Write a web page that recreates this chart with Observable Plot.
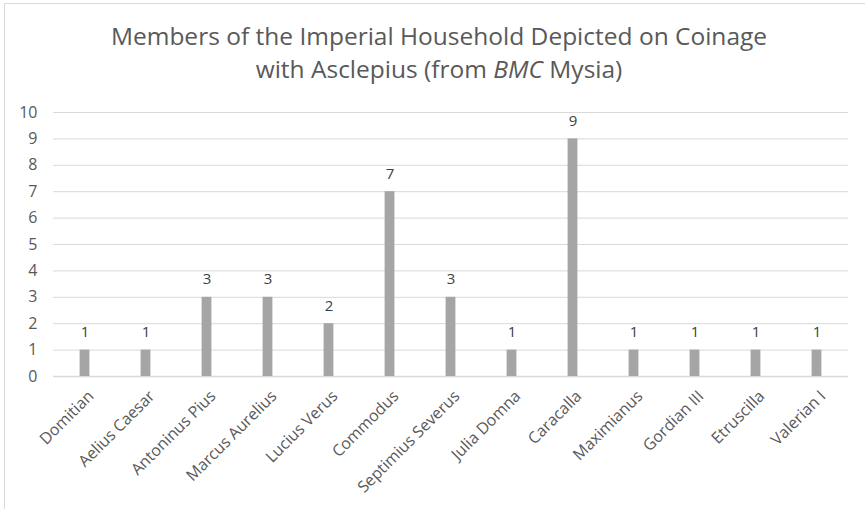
<!DOCTYPE html>
<html>
<head>
<meta charset="utf-8">
<script src="https://cdn.jsdelivr.net/npm/d3@7"></script>
<script src="https://cdn.jsdelivr.net/npm/@observablehq/plot@0.6"></script>
<style>
  body { margin: 0; background: #fff; }
  #wrap { position: relative; width: 865px; height: 509px; overflow: hidden; background: #fff; }
  #frame { position: absolute; left: 4px; top: 3px; width: 880px; height: 520px; border-left: 1px solid #d9d9d9; border-top: 1px solid #d9d9d9; }
  #title { position: absolute; left: 0; top: 19px; width: 878px; text-align: center; font-family: "Open Sans", sans-serif; font-size: 24.5px; line-height: 33px; color: #595959; }
  #chart { position: absolute; left: 0; top: 95px; }
</style>
</head>
<body>
<div id="wrap">
  <div id="frame"></div>
  <div id="title">Members of the Imperial Household Depicted on Coinage<br>with Asclepius (from <i>BMC</i> Mysia)</div>
  <div id="chart"></div>
</div>
<script>
const names = ["Domitian", "Aelius Caesar", "Antoninus Pius", "Marcus Aurelius", "Lucius Verus", "Commodus", "Septimius Severus", "Julia Domna", "Caracalla", "Maximianus", "Gordian III", "Etruscilla", "Valerian I"];
const counts = [1, 1, 3, 3, 2, 7, 3, 1, 9, 1, 1, 1, 1];
const yTicks = [0, 1, 2, 3, 4, 5, 6, 7, 8, 9, 10];

const data = names.map((name, i) => ({name, count: counts[i]}));

const chart = Plot.plot({
  width: 865,
  height: 414,
  marginTop: 17,
  marginBottom: 133,
  marginLeft: 53,
  marginRight: 17,
  style: {fontFamily: "'Open Sans', sans-serif", fontSize: "16px", color: "#595959", background: "transparent"},
  x: {domain: names, padding: 0, label: null},
  y: {domain: [0, 10], label: null},
  marks: [
    Plot.gridY(yTicks, {stroke: "#d9d9d9", strokeOpacity: 1}),
    Plot.ruleY([0], {stroke: "#d9d9d9", strokeWidth: 1.5}),
    Plot.barY(data, {x: "name", y: "count", fill: "#a5a5a5", insetLeft: 25.6, insetRight: 25.6}),
    Plot.text(data, {x: "name", y: "count", text: d => String(d.count), dy: -18, fill: "#404040", fontSize: 15}),
    Plot.axisY(yTicks, {tickSize: 0, tickPadding: 16, fontSize: 16, fill: "#595959", label: null}),
    Plot.axisX({tickSize: 0, tickPadding: 17, dx: 6, tickRotate: -45, fontSize: 16, fill: "#595959", label: null})
  ]
});
document.getElementById("chart").appendChild(chart);
</script>
</body>
</html>
